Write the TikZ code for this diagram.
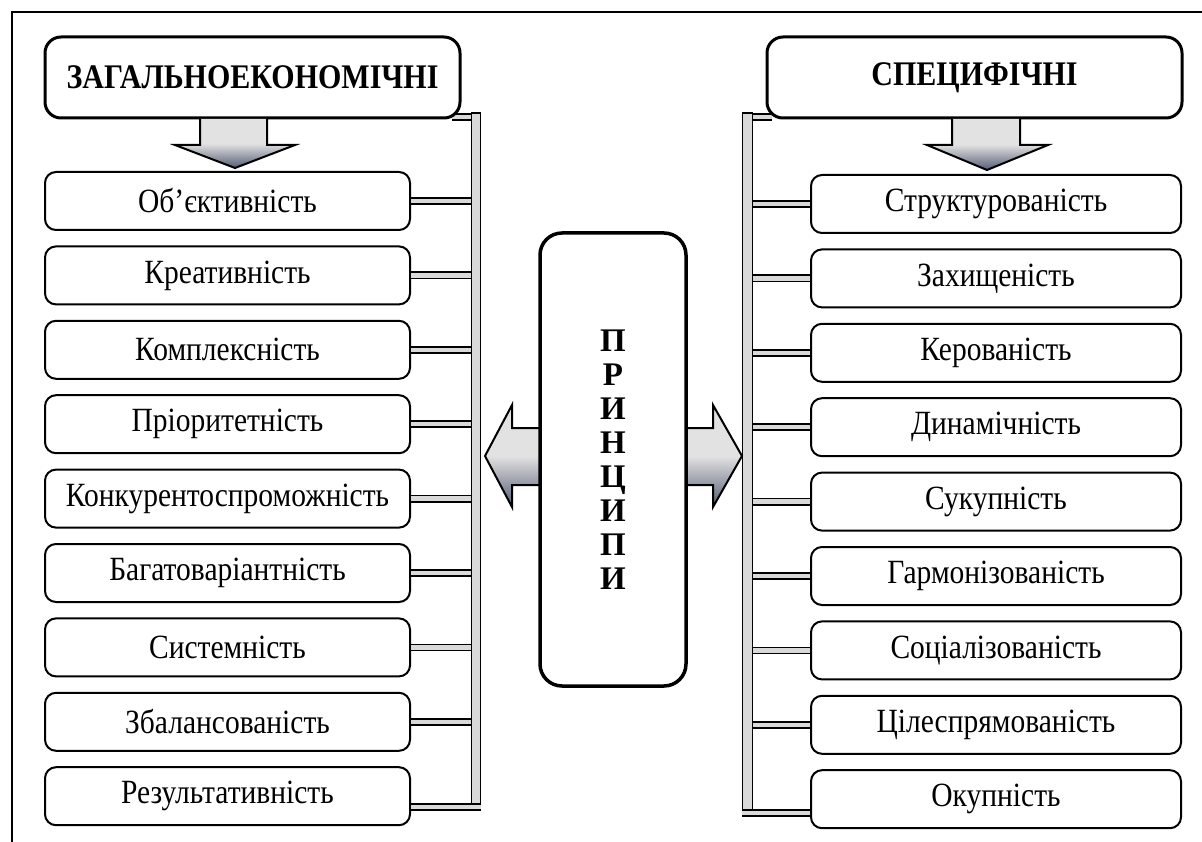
\documentclass[tikz,border=0pt]{standalone}
\usepackage{fontspec}
\usepackage{graphicx}
\setmainfont{Liberation Serif}
\usetikzlibrary{calc}
\definecolor{lg}{RGB}{226,226,226}
\definecolor{dk}{RGB}{84,92,116}
\definecolor{barg}{RGB}{217,217,217}
\newcommand\vtxt[1]{\scalebox{1}[1.15]{#1}}
\pgfdeclareverticalshading{arrsh}{100bp}{color(0bp)=(dk); color(25bp)=(dk); color(50bp)=(lg); color(100bp)=(lg)}
\tikzset{
  pbox/.style={draw, line width=2pt, rounded corners=11pt, fill=white,
    minimum height=58pt, inner sep=0pt,
    font=\fontsize{29.5}{34}\selectfont},
  lbox/.style={pbox, minimum width=365pt},
  rbox/.style={pbox, minimum width=370pt},
  hbox/.style={draw, line width=3pt, rounded corners=16pt, fill=white,
    minimum width=415pt, minimum height=81pt, inner sep=0pt,
    font=\fontsize{30}{34}\selectfont\bfseries},
  barst/.style={draw, line width=1.3pt, fill=barg, inner sep=0pt, minimum width=9.5pt},
  conn/.style={line width=1.7pt, double=barg, double distance=4.4pt},
  bigarrow/.style={draw, line width=2pt, shading=arrsh, line join=miter}
}
\begin{document}
\begin{tikzpicture}[x=1pt,y=-1pt]
\useasboundingbox (0,0) rectangle (1202,842);
% frame
\draw[line width=2pt] (12,842) -- (12,12) -- (1202,12);

% bars
\node[barst, minimum height=691pt] (lbar) at (476,458.5) {};
\node[barst, minimum height=697pt] (rbar) at (747.5,461.5) {};

% headers
\coordinate (ltab) at (452,117);
\coordinate (rtab) at (772,117);
\draw[conn] (ltab) -- (ltab -| lbar.west);
\draw[conn] (rtab) -- (rtab -| rbar.east);
\node[hbox] (LH) at (252.5,77.5) {\vtxt{ЗАГАЛЬНОЕКОНОМІЧНІ}};
\node[hbox] (RH) at (974.5,77.5) {\vtxt{СПЕЦИФІЧНІ}};
\node[barst, minimum height=691pt] at (lbar) {};
\node[barst, minimum height=697pt] at (rbar) {};

% down arrows
\draw[bigarrow] (200,119) -- (200,145) -- (175,145) -- (235,168) -- (295,145) -- (267,145) -- (267,119);
\draw[bigarrow] (952,119) -- (952,145) -- (927,145) -- (987,170) -- (1048,145) -- (1020,145) -- (1020,119);

% left boxes
\foreach \t [count=\i] in {Об’єктивність,Креативність,Комплексність,Пріоритетність,Конкурентоспроможність,Багатоваріантність,Системність,Збалансованість,Результативність}{
  \node[lbox] (L\i) at (227.5,{201+(\i-1)*74.4}) {\vtxt{\t}};
}
% right boxes
\foreach \t [count=\i] in {Структурованість,Захищеність,Керованість,Динамічність,Сукупність,Гармонізованість,Соціалізованість,Цілеспрямованість,Окупність}{
  \node[rbox] (R\i) at (996,{204+(\i-1)*74.4}) {\vtxt{\t}};
}

% connectors
\foreach \i in {1,...,8}{
  \draw[conn] (L\i.east) -- (L\i.east -| lbar.west);
  \draw[conn] (R\i.west) -- (R\i.west -| rbar.east);
}
\coordinate (lb) at ($(lbar.south east)+(0,2.5)$);
\coordinate (rb) at ($(rbar.south west)+(0,2.5)$);
\draw[conn] (lb -| L9.east) -- (lb);
\draw[conn] (rb -| R9.west) -- (rb);
% redraw bars on top of connector ends
\node[barst, minimum height=691pt] at (lbar) {};
\node[barst, minimum height=697pt] at (rbar) {};
\draw[conn] (lb -| L9.east) -- ($(lb)+(-9.5,0)$);
\draw[conn] (rb -| R9.west) -- ($(rb)+(9.5,0)$);

% side arrows
\draw[bigarrow] (541,428) -- (512,428) -- (512,405) -- (485,456) -- (512,507) -- (512,485) -- (541,485);
\draw[bigarrow] (685,428) -- (713,428) -- (713,405) -- (742,456) -- (713,507) -- (713,485) -- (685,485);

% center box
\node[draw, line width=3.5pt, rounded corners=22pt, fill=white,
  minimum width=146pt, minimum height=453pt, inner sep=0pt] (C) at (613,459.5) {};
\node[align=center, font=\fontsize{33}{34}\selectfont\bfseries] (CT) at (C) {П\\Р\\И\\Н\\Ц\\И\\П\\И};
\end{tikzpicture}
\end{document}
